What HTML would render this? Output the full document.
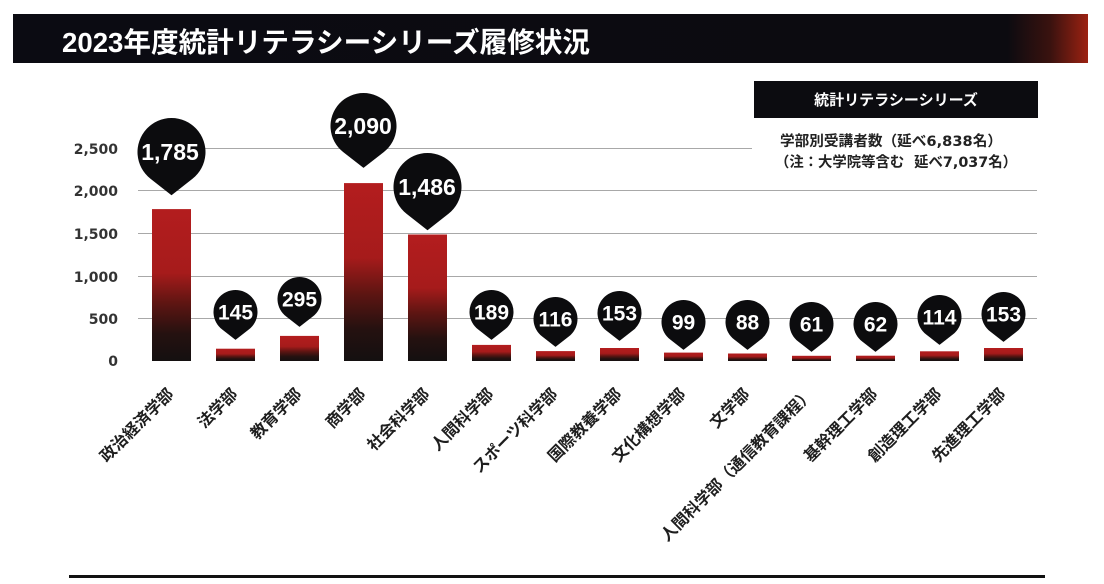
<!DOCTYPE html>
<html>
<head>
<meta charset="utf-8">
<style>
html,body{margin:0;padding:0;background:#fff;}
svg{display:block;}
.t{font-family:"Liberation Sans","Noto Sans CJK JP",sans-serif;font-weight:bold;}
.v{font-family:"DejaVu Sans","Noto Sans CJK JP",sans-serif;font-weight:bold;}
.j{font-family:"Noto Sans CJK JP","Liberation Sans",sans-serif;font-weight:bold;}
</style>
</head>
<body>
<svg width="1104" height="584" viewBox="0 0 1104 584" xmlns="http://www.w3.org/2000/svg">
<defs>
  <linearGradient id="tb" x1="0" y1="0" x2="1" y2="0">
    <stop offset="0" stop-color="#0b0b12"/>
    <stop offset="0.925" stop-color="#0c0b10"/>
    <stop offset="0.965" stop-color="#3a120f"/>
    <stop offset="1" stop-color="#9c2212"/>
  </linearGradient>
  <linearGradient id="bg" x1="0" y1="0" x2="0" y2="1">
    <stop offset="0" stop-color="#b31d1e"/>
    <stop offset="0.42" stop-color="#a61b1b"/>
    <stop offset="0.62" stop-color="#5e1512"/>
    <stop offset="0.82" stop-color="#251110"/>
    <stop offset="1" stop-color="#141010"/>
  </linearGradient>
</defs>
<rect width="1104" height="584" fill="#fff"/>

<!-- Title bar -->
<rect x="13" y="14" width="1075" height="49" fill="url(#tb)"/>
<text x="62" y="52" class="t" font-size="28" fill="#fff" textLength="528" lengthAdjust="spacingAndGlyphs">2023年度統計リテラシーシリーズ履修状況</text>

<!-- gridlines -->
<g stroke="#a8a8a8" stroke-width="1">
  <line x1="138" y1="148.5" x2="1037" y2="148.5"/>
  <line x1="138" y1="190.5" x2="1037" y2="190.5"/>
  <line x1="138" y1="233.5" x2="1037" y2="233.5"/>
  <line x1="138" y1="276.5" x2="1037" y2="276.5"/>
  <line x1="138" y1="318.5" x2="1037" y2="318.5"/>
</g>

<!-- y labels -->
<g class="v" font-size="14" fill="#333" text-anchor="end">
  <text x="118" y="154">2,500</text>
  <text x="118" y="196">2,000</text>
  <text x="118" y="239">1,500</text>
  <text x="118" y="282">1,000</text>
  <text x="118" y="324">500</text>
  <text x="118" y="366">0</text>
</g>

<!-- legend -->
<rect x="752" y="122" width="290" height="52" fill="#fff"/>
<rect x="754" y="81" width="284" height="37" fill="#0c0c10"/>
<text x="896" y="105" class="j" font-size="15" fill="#fff" text-anchor="middle">統計リテラシーシリーズ</text>
<text x="891" y="146" class="v" font-size="14.5" fill="#222" text-anchor="middle" textLength="222" lengthAdjust="spacingAndGlyphs">学部別受講者数（延べ6,838名）</text>
<text x="896" y="167" class="v" font-size="14.5" fill="#222" text-anchor="middle" textLength="242" lengthAdjust="spacingAndGlyphs">（注：大学院等含む&#160;&#160;延べ7,037名）</text>

<!-- bars -->
<g fill="url(#bg)">
  <rect x="152" y="209.1" width="39" height="151.9"/>
  <rect x="216" y="348.7" width="39" height="12.3"/>
  <rect x="280" y="335.9" width="39" height="25.1"/>
  <rect x="344" y="183.1" width="39" height="177.9"/>
  <rect x="408" y="234.5" width="39" height="126.5"/>
  <rect x="472" y="344.9" width="39" height="16.1"/>
  <rect x="536" y="351.1" width="39" height="9.9"/>
  <rect x="600" y="348.0" width="39" height="13.0"/>
  <rect x="664" y="352.6" width="39" height="8.4"/>
  <rect x="728" y="353.5" width="39" height="7.5"/>
  <rect x="792" y="355.8" width="39" height="5.2"/>
  <rect x="856" y="355.7" width="39" height="5.3"/>
  <rect x="920" y="351.3" width="39" height="9.7"/>
  <rect x="984" y="348.0" width="39" height="13.0"/>
</g>

<!-- pins -->
<g fill="#0c0c0e">
  <path d="M171.5,195.2 L192.5,178.8 A34,34 0 1 0 150.5,178.8 Z"/>
  <path d="M235.5,339.9 L249.1,329.3 A22,22 0 1 0 221.9,329.3 Z"/>
  <path d="M299.5,326.9 L313.1,316.3 A22,22 0 1 0 285.9,316.3 Z"/>
  <path d="M363.5,167.9 L383.9,152 A33,33 0 1 0 343.1,152 Z"/>
  <path d="M427.5,230.2 L448.5,213.8 A34,34 0 1 0 406.5,213.8 Z"/>
  <path d="M491.5,339.9 L505.1,329.3 A22,22 0 1 0 477.9,329.3 Z"/>
  <path d="M555.5,346.9 L569.1,336.3 A22,22 0 1 0 541.9,336.3 Z"/>
  <path d="M619.5,340.9 L633.1,330.3 A22,22 0 1 0 605.9,330.3 Z"/>
  <path d="M683.5,349.9 L697.1,339.3 A22,22 0 1 0 669.9,339.3 Z"/>
  <path d="M747.5,349.9 L761.1,339.3 A22,22 0 1 0 733.9,339.3 Z"/>
  <path d="M811.5,351.9 L825.1,341.3 A22,22 0 1 0 797.9,341.3 Z"/>
  <path d="M875.5,351.9 L889.1,341.3 A22,22 0 1 0 861.9,341.3 Z"/>
  <path d="M939.5,344.9 L953.1,334.3 A22,22 0 1 0 925.9,334.3 Z"/>
  <path d="M1003.5,341.9 L1017.1,331.3 A22,22 0 1 0 989.9,331.3 Z"/>
</g>
<g class="t" fill="#fff" text-anchor="middle">
  <text x="170" y="160" font-size="23">1,785</text>
  <text x="235.5" y="319.5" font-size="21">145</text>
  <text x="299.5" y="306.5" font-size="21">295</text>
  <text x="363" y="134" font-size="23">2,090</text>
  <text x="427" y="195" font-size="23">1,486</text>
  <text x="491.5" y="319.5" font-size="21">189</text>
  <text x="555.5" y="326.5" font-size="21">116</text>
  <text x="619.5" y="320.5" font-size="21">153</text>
  <text x="683.5" y="329.5" font-size="21">99</text>
  <text x="747.5" y="329.5" font-size="21">88</text>
  <text x="811.5" y="331.5" font-size="21">61</text>
  <text x="875.5" y="331.5" font-size="21">62</text>
  <text x="939.5" y="324.5" font-size="21">114</text>
  <text x="1003.5" y="321.5" font-size="21">153</text>
</g>

<!-- x labels -->
<g class="j" font-size="16" fill="#1e1e1e" text-anchor="end">
  <text transform="translate(174.5,395) rotate(-45)">政治経済学部</text>
  <text transform="translate(238.5,395) rotate(-45)">法学部</text>
  <text transform="translate(302.5,395) rotate(-45)">教育学部</text>
  <text transform="translate(366.5,395) rotate(-45)">商学部</text>
  <text transform="translate(430.5,395) rotate(-45)">社会科学部</text>
  <text transform="translate(494.5,395) rotate(-45)">人間科学部</text>
  <text transform="translate(558.5,395) rotate(-45)">スポーツ科学部</text>
  <text transform="translate(622.5,395) rotate(-45)">国際教養学部</text>
  <text transform="translate(686.5,395) rotate(-45)">文化構想学部</text>
  <text transform="translate(750.5,395) rotate(-45)">文学部</text>
  <text transform="translate(814.5,395) rotate(-45)">人間科学部（通信教育課程）</text>
  <text transform="translate(878.5,395) rotate(-45)">基幹理工学部</text>
  <text transform="translate(942.5,395) rotate(-45)">創造理工学部</text>
  <text transform="translate(1006.5,395) rotate(-45)">先進理工学部</text>
</g>

<!-- bottom rule -->
<rect x="69" y="575" width="976" height="3" fill="#111"/>
</svg>
</body>
</html>
